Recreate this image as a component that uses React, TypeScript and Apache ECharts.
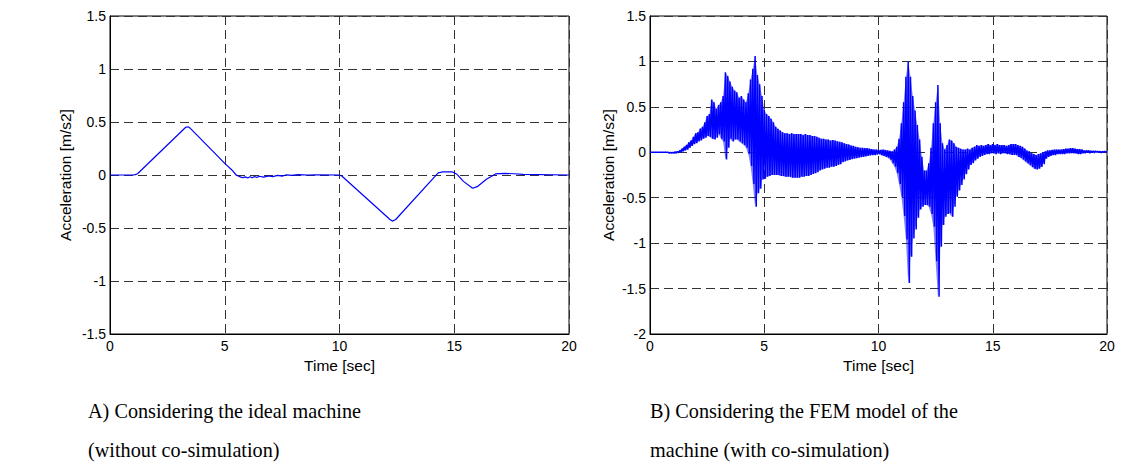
import React, { useEffect, useRef } from "react";
import * as echarts from "echarts";

// Left chart (ideal machine)
const aTime = [0, 1.0, 1.1, 1.2, 3.3, 3.4, 3.5, 4.5, 5.0, 5.3, 5.5, 5.7, 5.8, 5.9, 6.0, 6.1, 6.2, 6.3, 6.4, 6.5, 6.7, 6.9, 7.1, 7.3, 7.5, 7.7, 7.9, 8.2, 8.6, 9.0, 10.0, 10.1, 12.2, 12.3, 12.45, 14.3, 14.5, 14.9, 15.1, 15.4, 15.8, 16.0, 16.4, 16.8, 17.2, 17.6, 18.0, 20.0];
const aAccel = [0, 0, 0.004, 0.012, 0.45, 0.455, 0.44, 0.22, 0.11, 0.05, 0.0, -0.02, -0.025, -0.018, -0.028, -0.016, -0.026, -0.014, -0.024, -0.012, -0.02, -0.008, -0.015, -0.004, -0.01, 0.002, -0.004, 0.003, 0.0, 0.001, 0.0, -0.01, -0.42, -0.435, -0.42, 0.02, 0.03, 0.03, 0.01, -0.06, -0.125, -0.11, -0.04, 0.01, 0.015, 0.012, 0.005, 0.0];

// Right chart (FEM model): oscillation upper / lower peaks read every 0.1 s
const fStep = 0.1;
const fUpper = [
  0, 0, 0, 0, 0, 0, 0, 0, 0, 0, 0,
  0.005, 0.01, 0.02, 0.04, 0.06, 0.08, 0.11, 0.13, 0.17, 0.21,
  0.22, 0.26, 0.28, 0.33, 0.40, 0.42, 0.58, 0.55, 0.48, 0.52,
  0.55, 0.62, 0.88, 0.84, 0.78, 0.72, 0.68, 0.66, 0.60, 0.62,
  0.58, 0.55, 0.65, 0.80, 0.92, 1.06, 0.85, 0.75, 0.62, 0.47,
  0.42, 0.40, 0.37, 0.33, 0.28, 0.26, 0.24, 0.22, 0.21, 0.21,
  0.20, 0.21, 0.20, 0.20, 0.20, 0.20, 0.19, 0.20, 0.19, 0.19,
  0.18, 0.18, 0.17, 0.16, 0.15, 0.15, 0.14, 0.14, 0.13, 0.135,
  0.13, 0.12, 0.115, 0.11, 0.10, 0.09, 0.085, 0.075, 0.07, 0.06,
  0.055, 0.05, 0.05, 0.045, 0.045, 0.04, 0.035, 0.03, 0.03, 0.025,
  0.025, 0.03, 0.025, 0.02, 0.015, 0.01, 0.03, 0.06, 0.15, 0.32,
  0.55, 0.83, 1.0, 0.83, 0.62, 0.46, 0.30, 0.14, -0.05, -0.20,
  -0.20, -0.12, 0.05, 0.32, 0.55, 0.74, 0.32, 0.10, 0.03, 0.08,
  0.14, 0.13, 0.10, 0.06, 0.05, 0.04, 0.03, 0.03, 0.04, 0.03,
  0.05, 0.06, 0.08, 0.07, 0.08, 0.07, 0.08, 0.09, 0.08, 0.09,
  0.08, 0.09, 0.08, 0.08, 0.08, 0.07, 0.08, 0.09, 0.09, 0.09,
  0.08, 0.07, 0.06, 0.04, 0.02, 0.01, -0.01, -0.02, -0.03, -0.02,
  -0.01, 0.0, 0.01, 0.02, 0.02, 0.025, 0.03, 0.03, 0.03, 0.03,
  0.035, 0.04, 0.04, 0.045, 0.045, 0.04, 0.035, 0.035, 0.03, 0.02,
  0.02, 0.02, 0.015, 0.015, 0.015, 0.01, 0.01, 0.01, 0.01, 0.01,
];
const fLower = [
  0, 0, 0, 0, 0, 0, 0, 0, -0.01, -0.01, -0.01,
  -0.01, -0.005, 0.0, 0.01, 0.02, 0.03, 0.05, 0.07, 0.09, 0.10,
  0.12, 0.13, 0.15, 0.16, 0.18, 0.17, 0.15, 0.14, 0.16, 0.20,
  0.15, 0.12, -0.08, 0.05, 0.15, 0.12, 0.14, 0.14, 0.12, 0.10,
  0.08, 0.05, -0.02, -0.15, -0.35, -0.60, -0.45, -0.40, -0.30, -0.29,
  -0.27, -0.26, -0.25, -0.25, -0.25, -0.25, -0.26, -0.26, -0.27, -0.27,
  -0.27, -0.28, -0.28, -0.28, -0.28, -0.27, -0.27, -0.26, -0.26, -0.25,
  -0.24, -0.23, -0.22, -0.20, -0.19, -0.18, -0.17, -0.17, -0.16, -0.16,
  -0.15, -0.14, -0.13, -0.11, -0.10, -0.09, -0.085, -0.075, -0.07, -0.065,
  -0.06, -0.055, -0.05, -0.045, -0.04, -0.035, -0.03, -0.03, -0.025, -0.02,
  -0.03, -0.04, -0.05, -0.06, -0.08, -0.12, -0.16, -0.23, -0.35, -0.49,
  -0.70, -0.96, -1.44, -1.15, -0.95, -0.85, -0.72, -0.63, -0.60, -0.58,
  -0.58, -0.60, -0.68, -0.82, -1.20, -1.59, -1.04, -0.80, -0.71, -0.68,
  -0.67, -0.71, -0.60, -0.49, -0.42, -0.36, -0.30, -0.24, -0.19, -0.14,
  -0.12, -0.09, -0.07, -0.05, -0.04, -0.03, -0.02, -0.02, -0.01, -0.01,
  -0.02, -0.01, -0.02, -0.01, -0.01, -0.02, -0.02, -0.03, -0.03, -0.03,
  -0.05, -0.06, -0.08, -0.10, -0.12, -0.14, -0.16, -0.18, -0.19, -0.18,
  -0.16, -0.13, -0.07, -0.05, -0.04, -0.03, -0.03, -0.02, -0.02, -0.02,
  -0.02, -0.01, -0.01, -0.01, -0.01, -0.01, -0.02, -0.02, -0.01, -0.01,
  0, -0.01, 0, -0.005, 0, 0, -0.005, 0, 0, 0,
];

const leftYTicks = { min: -1.5, max: 1.5, interval: 0.5 };
const rightYTicks = { min: -2, max: 1.5, interval: 0.5 };
const xTicks = { min: 0, max: 20, interval: 5 };

const captionA = ["A) Considering the ideal machine", "(without co-simulation)"];
const captionB = ["B) Considering the FEM model of the", "machine (with co-simulation)"];

const SANS = '"Liberation Sans", Arial, sans-serif';
const SERIF = '"Liberation Serif", "Times New Roman", serif';

export default function App() {
  const ref = useRef<HTMLDivElement>(null);
  useEffect(() => {
    if (!ref.current) return;
    const chart = echarts.init(ref.current, null, { renderer: "svg" });

    const leftData = aTime.map((t, i) => [t, aAccel[i]]);
    const rightData: number[][] = [];
    fUpper.forEach((v, i) => {
      const t = i * fStep;
      rightData.push([t, v]);
      if (i < fUpper.length - 1) rightData.push([t + fStep / 2, fLower[i]]);
    });

    const gridLine = { show: true, lineStyle: { color: "#333", width: 1, type: [9, 5] as any } };
    const mkX = (gi: number) => ({
      type: "value",
      gridIndex: gi,
      ...xTicks,
      name: "Time [sec]",
      nameLocation: "middle",
      nameGap: 18,
      nameTextStyle: { fontFamily: SANS, fontSize: 15.5, color: "#000" },
      axisLine: { show: true, onZero: false, lineStyle: { color: "#000", width: 1 } },
      axisTick: { show: false },
      axisLabel: { fontFamily: SANS, fontSize: 14, color: "#000", margin: 5 },
      splitLine: gridLine,
    });
    const mkY = (gi: number, ticks: any, gap: number) => ({
      type: "value",
      gridIndex: gi,
      ...ticks,
      name: "Acceleration [m/s2]",
      nameLocation: "middle",
      nameGap: gap,
      nameTextStyle: { fontFamily: SANS, fontSize: 15.5, color: "#000" },
      axisLine: { show: true, onZero: false, lineStyle: { color: "#000", width: 1 } },
      axisTick: { show: false },
      axisLabel: { fontFamily: SANS, fontSize: 14, color: "#000", margin: 4 },
      splitLine: gridLine,
    });

    const captionEls: any[] = [];
    [captionA, captionB].forEach((lines, k) => {
      lines.forEach((txt, j) => {
        captionEls.push({
          type: "text",
          x: k === 0 ? 88 : 650,
          y: 411 + j * 39,
          scaleX: 0.92,
          style: {
            text: txt,
            font: `22px ${SERIF}`,
            fill: "#000",
            textVerticalAlign: "middle",
          },
        });
      });
    });

    chart.setOption({
      animation: false,
      backgroundColor: "#fff",
      grid: [
        { left: 110, top: 16, width: 459, height: 318, show: true, borderColor: "#000", borderWidth: 1 },
        { left: 650, top: 16, width: 457, height: 318, show: true, borderColor: "#000", borderWidth: 1 },
      ],
      xAxis: [mkX(0), mkX(1)],
      yAxis: [mkY(0, leftYTicks, 37), mkY(1, rightYTicks, 34)],
      series: [
        {
          type: "line",
          xAxisIndex: 0,
          yAxisIndex: 0,
          data: leftData,
          showSymbol: false,
          lineStyle: { color: "#0000ff", width: 1.2 },
          itemStyle: { color: "#0000ff" },
        },
        {
          type: "custom",
          xAxisIndex: 1,
          yAxisIndex: 1,
          data: [[0, 0]],
          clip: true,
          silent: true,
          z: 1,
          renderItem: (_params: any, api: any) => {
            const pts: number[][] = [];
            fUpper.forEach((v, i) => pts.push(api.coord([i * fStep, v])));
            for (let i = fLower.length - 1; i >= 0; i--) pts.push(api.coord([i * fStep, fLower[i]]));
            return {
              type: "polygon",
              shape: { points: pts },
              style: { fill: "#0000ff", opacity: 0.5 },
            };
          },
        },
        {
          type: "line",
          xAxisIndex: 1,
          yAxisIndex: 1,
          data: rightData,
          showSymbol: false,
          lineStyle: { color: "#0000ff", width: 1.5 },
          itemStyle: { color: "#0000ff" },
          z: 2,
        },
      ],
      graphic: captionEls,
    });
    return () => chart.dispose();
  }, []);
  return (
    <div
      ref={ref}
      style={{ position: "fixed", left: 0, top: 0, width: 1135, height: 469, background: "#fff" }}
    />
  );
}
